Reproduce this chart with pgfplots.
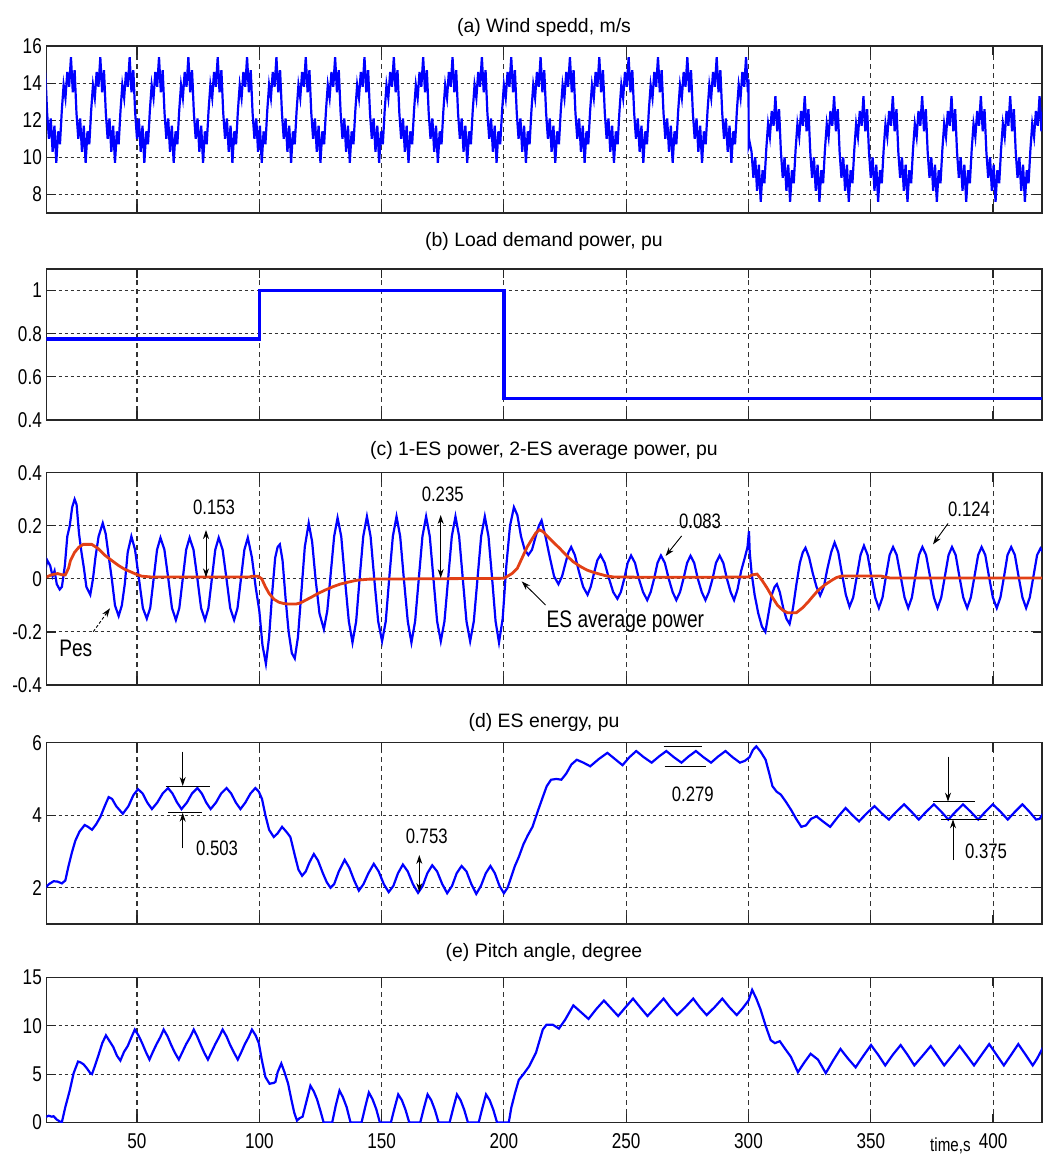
\documentclass[border=0pt]{standalone}
\usepackage{fontspec}
\setmainfont{Liberation Sans}
\newfontfamily\cond[FakeStretch=0.8]{Liberation Sans}
\usepackage{pgfplots}
\pgfplotsset{compat=1.18}
\usetikzlibrary{arrows.meta}
\definecolor{esred}{RGB}{226,64,22}
\newcommand\tickfont{\cond\fontsize{21.5}{24}\selectfont}
\newcommand\titlefont{\fontsize{19.5}{23}\selectfont}
\newcommand\annfont{\cond\fontsize{21}{24}\selectfont}
\newcommand\bigann{\cond\fontsize{24}{27}\selectfont}
\pgfplotsset{panel/.style={
  scale only axis, width=995.5bp, anchor=south west,
  xmin=13, xmax=420, xtick={50,100,...,400}, xticklabels={},
  tick align=inside, tick pos=both, major tick length=9bp,
  grid=major,
  x grid style={black!80, line width=1.1bp, dash pattern=on 5bp off 4bp},
  y grid style={black!80, line width=1.1bp, dash pattern=on 3bp off 3bp},
  axis line style={black!85, line width=1.4bp},
  tick style={black!85, line width=1.2bp},
  yticklabel style={font=\tickfont, inner sep=0pt, xshift=-4.5bp},
  xticklabel style={font=\tickfont, inner sep=0pt, yshift=-10.5bp},
  /pgf/number format/assume math mode=true,
}}
\tikzset{ah/.style={-{Stealth[length=9bp,width=6bp]}, line width=0.9bp, black},
         dah/.style={{Stealth[length=9bp,width=6bp]}-{Stealth[length=9bp,width=6bp]}, line width=0.9bp, black}}
\begin{document}
\begin{tikzpicture}
\path[use as bounding box] (0,0) rectangle (1048bp,-1160bp);
% ---------------- (a) wind speed
\begin{axis}[panel, at={(46.5bp,-213bp)}, height=167bp, ymin=7, ymax=16, ytick={8,10,12,14,16}]
\addplot[blue, line width=2.2bp] coordinates {
(12.5,14.7)(13.25,12.4)(14,11.0)(14.75,12.1)(15.5,10.3)(16.25,11.7)
(17,9.7)(17.75,11.4)(18.5,10.7)(19.25,12.5)(20,13.9)(20.75,13.2)(21.5,14.6)(22.25,13.8)(23,15.4)(23.75,13.5)(24.5,14.7)(25.25,12.4)(26,11.0)(26.75,12.1)(27.5,10.3)(28.25,11.7)
(29,9.7)(29.75,11.4)(30.5,10.7)(31.25,12.5)(32,13.9)(32.75,13.2)(33.5,14.6)(34.25,13.8)(35,15.4)(35.75,13.5)(36.5,14.7)(37.25,12.4)(38,11.0)(38.75,12.1)(39.5,10.3)(40.25,11.7)
(41,9.7)(41.75,11.4)(42.5,10.7)(43.25,12.5)(44,13.9)(44.75,13.2)(45.5,14.6)(46.25,13.8)(47,15.4)(47.75,13.5)(48.5,14.7)(49.25,12.4)(50,11.0)(50.75,12.1)(51.5,10.3)(52.25,11.7)
(53,9.7)(53.75,11.4)(54.5,10.7)(55.25,12.5)(56,13.9)(56.75,13.2)(57.5,14.6)(58.25,13.8)(59,15.4)(59.75,13.5)(60.5,14.7)(61.25,12.4)(62,11.0)(62.75,12.1)(63.5,10.3)(64.25,11.7)
(65,9.7)(65.75,11.4)(66.5,10.7)(67.25,12.5)(68,13.9)(68.75,13.2)(69.5,14.6)(70.25,13.8)(71,15.4)(71.75,13.5)(72.5,14.7)(73.25,12.4)(74,11.0)(74.75,12.1)(75.5,10.3)(76.25,11.7)
(77,9.7)(77.75,11.4)(78.5,10.7)(79.25,12.5)(80,13.9)(80.75,13.2)(81.5,14.6)(82.25,13.8)(83,15.4)(83.75,13.5)(84.5,14.7)(85.25,12.4)(86,11.0)(86.75,12.1)(87.5,10.3)(88.25,11.7)
(89,9.7)(89.75,11.4)(90.5,10.7)(91.25,12.5)(92,13.9)(92.75,13.2)(93.5,14.6)(94.25,13.8)(95,15.4)(95.75,13.5)(96.5,14.7)(97.25,12.4)(98,11.0)(98.75,12.1)(99.5,10.3)(100.25,11.7)
(101,9.7)(101.75,11.4)(102.5,10.7)(103.25,12.5)(104,13.9)(104.75,13.2)(105.5,14.6)(106.25,13.8)(107,15.4)(107.75,13.5)(108.5,14.7)(109.25,12.4)(110,11.0)(110.75,12.1)(111.5,10.3)(112.25,11.7)
(113,9.7)(113.75,11.4)(114.5,10.7)(115.25,12.5)(116,13.9)(116.75,13.2)(117.5,14.6)(118.25,13.8)(119,15.4)(119.75,13.5)(120.5,14.7)(121.25,12.4)(122,11.0)(122.75,12.1)(123.5,10.3)(124.25,11.7)
(125,9.7)(125.75,11.4)(126.5,10.7)(127.25,12.5)(128,13.9)(128.75,13.2)(129.5,14.6)(130.25,13.8)(131,15.4)(131.75,13.5)(132.5,14.7)(133.25,12.4)(134,11.0)(134.75,12.1)(135.5,10.3)(136.25,11.7)
(137,9.7)(137.75,11.4)(138.5,10.7)(139.25,12.5)(140,13.9)(140.75,13.2)(141.5,14.6)(142.25,13.8)(143,15.4)(143.75,13.5)(144.5,14.7)(145.25,12.4)(146,11.0)(146.75,12.1)(147.5,10.3)(148.25,11.7)
(149,9.7)(149.75,11.4)(150.5,10.7)(151.25,12.5)(152,13.9)(152.75,13.2)(153.5,14.6)(154.25,13.8)(155,15.4)(155.75,13.5)(156.5,14.7)(157.25,12.4)(158,11.0)(158.75,12.1)(159.5,10.3)(160.25,11.7)
(161,9.7)(161.75,11.4)(162.5,10.7)(163.25,12.5)(164,13.9)(164.75,13.2)(165.5,14.6)(166.25,13.8)(167,15.4)(167.75,13.5)(168.5,14.7)(169.25,12.4)(170,11.0)(170.75,12.1)(171.5,10.3)(172.25,11.7)
(173,9.7)(173.75,11.4)(174.5,10.7)(175.25,12.5)(176,13.9)(176.75,13.2)(177.5,14.6)(178.25,13.8)(179,15.4)(179.75,13.5)(180.5,14.7)(181.25,12.4)(182,11.0)(182.75,12.1)(183.5,10.3)(184.25,11.7)
(185,9.7)(185.75,11.4)(186.5,10.7)(187.25,12.5)(188,13.9)(188.75,13.2)(189.5,14.6)(190.25,13.8)(191,15.4)(191.75,13.5)(192.5,14.7)(193.25,12.4)(194,11.0)(194.75,12.1)(195.5,10.3)(196.25,11.7)
(197,9.7)(197.75,11.4)(198.5,10.7)(199.25,12.5)(200,13.9)(200.75,13.2)(201.5,14.6)(202.25,13.8)(203,15.4)(203.75,13.5)(204.5,14.7)(205.25,12.4)(206,11.0)(206.75,12.1)(207.5,10.3)(208.25,11.7)
(209,9.7)(209.75,11.4)(210.5,10.7)(211.25,12.5)(212,13.9)(212.75,13.2)(213.5,14.6)(214.25,13.8)(215,15.4)(215.75,13.5)(216.5,14.7)(217.25,12.4)(218,11.0)(218.75,12.1)(219.5,10.3)(220.25,11.7)
(221,9.7)(221.75,11.4)(222.5,10.7)(223.25,12.5)(224,13.9)(224.75,13.2)(225.5,14.6)(226.25,13.8)(227,15.4)(227.75,13.5)(228.5,14.7)(229.25,12.4)(230,11.0)(230.75,12.1)(231.5,10.3)(232.25,11.7)
(233,9.7)(233.75,11.4)(234.5,10.7)(235.25,12.5)(236,13.9)(236.75,13.2)(237.5,14.6)(238.25,13.8)(239,15.4)(239.75,13.5)(240.5,14.7)(241.25,12.4)(242,11.0)(242.75,12.1)(243.5,10.3)(244.25,11.7)
(245,9.7)(245.75,11.4)(246.5,10.7)(247.25,12.5)(248,13.9)(248.75,13.2)(249.5,14.6)(250.25,13.8)(251,15.4)(251.75,13.5)(252.5,14.7)(253.25,12.4)(254,11.0)(254.75,12.1)(255.5,10.3)(256.25,11.7)
(257,9.7)(257.75,11.4)(258.5,10.7)(259.25,12.5)(260,13.9)(260.75,13.2)(261.5,14.6)(262.25,13.8)(263,15.4)(263.75,13.5)(264.5,14.7)(265.25,12.4)(266,11.0)(266.75,12.1)(267.5,10.3)(268.25,11.7)
(269,9.7)(269.75,11.4)(270.5,10.7)(271.25,12.5)(272,13.9)(272.75,13.2)(273.5,14.6)(274.25,13.8)(275,15.4)(275.75,13.5)(276.5,14.7)(277.25,12.4)(278,11.0)(278.75,12.1)(279.5,10.3)(280.25,11.7)
(281,9.7)(281.75,11.4)(282.5,10.7)(283.25,12.5)(284,13.9)(284.75,13.2)(285.5,14.6)(286.25,13.8)(287,15.4)(287.75,13.5)(288.5,14.7)(289.25,12.4)(290,11.0)(290.75,12.1)(291.5,10.3)(292.25,11.7)
(293,9.7)(293.75,11.4)(294.5,10.7)(295.25,12.5)(296,13.9)(296.75,13.2)(297.5,14.6)(298.25,13.8)(299,15.4)(299.75,13.5)(300,14.2)(300.1,10.6)(300.5,10.8)(301.25,10.3)(302,8.9)(302.75,10.0)(303.5,8.2)(304.25,9.6)
(305,7.6)(305.75,9.3)(306.5,8.6)(307.25,10.4)(308,11.8)(308.75,11.1)(309.5,12.5)(310.25,11.7)(311,13.3)(311.75,11.4)(312.5,12.6)(313.25,10.3)(314,8.9)(314.75,10.0)(315.5,8.2)(316.25,9.6)
(317,7.6)(317.75,9.3)(318.5,8.6)(319.25,10.4)(320,11.8)(320.75,11.1)(321.5,12.5)(322.25,11.7)(323,13.3)(323.75,11.4)(324.5,12.6)(325.25,10.3)(326,8.9)(326.75,10.0)(327.5,8.2)(328.25,9.6)
(329,7.6)(329.75,9.3)(330.5,8.6)(331.25,10.4)(332,11.8)(332.75,11.1)(333.5,12.5)(334.25,11.7)(335,13.3)(335.75,11.4)(336.5,12.6)(337.25,10.3)(338,8.9)(338.75,10.0)(339.5,8.2)(340.25,9.6)
(341,7.6)(341.75,9.3)(342.5,8.6)(343.25,10.4)(344,11.8)(344.75,11.1)(345.5,12.5)(346.25,11.7)(347,13.3)(347.75,11.4)(348.5,12.6)(349.25,10.3)(350,8.9)(350.75,10.0)(351.5,8.2)(352.25,9.6)
(353,7.6)(353.75,9.3)(354.5,8.6)(355.25,10.4)(356,11.8)(356.75,11.1)(357.5,12.5)(358.25,11.7)(359,13.3)(359.75,11.4)(360.5,12.6)(361.25,10.3)(362,8.9)(362.75,10.0)(363.5,8.2)(364.25,9.6)
(365,7.6)(365.75,9.3)(366.5,8.6)(367.25,10.4)(368,11.8)(368.75,11.1)(369.5,12.5)(370.25,11.7)(371,13.3)(371.75,11.4)(372.5,12.6)(373.25,10.3)(374,8.9)(374.75,10.0)(375.5,8.2)(376.25,9.6)
(377,7.6)(377.75,9.3)(378.5,8.6)(379.25,10.4)(380,11.8)(380.75,11.1)(381.5,12.5)(382.25,11.7)(383,13.3)(383.75,11.4)(384.5,12.6)(385.25,10.3)(386,8.9)(386.75,10.0)(387.5,8.2)(388.25,9.6)
(389,7.6)(389.75,9.3)(390.5,8.6)(391.25,10.4)(392,11.8)(392.75,11.1)(393.5,12.5)(394.25,11.7)(395,13.3)(395.75,11.4)(396.5,12.6)(397.25,10.3)(398,8.9)(398.75,10.0)(399.5,8.2)(400.25,9.6)
(401,7.6)(401.75,9.3)(402.5,8.6)(403.25,10.4)(404,11.8)(404.75,11.1)(405.5,12.5)(406.25,11.7)(407,13.3)(407.75,11.4)(408.5,12.6)(409.25,10.3)(410,8.9)(410.75,10.0)(411.5,8.2)(412.25,9.6)
(413,7.6)(413.75,9.3)(414.5,8.6)(415.25,10.4)(416,11.8)(416.75,11.1)(417.5,12.5)(418.25,11.7)(419,13.3)(419.75,11.4)(420.5,12.6)
};
\end{axis}
% ---------------- (b) load demand
\begin{axis}[panel, at={(46.5bp,-420bp)}, height=151bp, ymin=0.4, ymax=1.1, ytick={0.4,0.6,0.8,1}]
\addplot[blue, line width=3.6bp] coordinates {(12.5,0.775)(100,0.775)(100,1.0)(200,1.0)(200,0.5)(420.5,0.5)};
\end{axis}
% ---------------- (c) ES power
\begin{axis}[panel, at={(46.5bp,-685bp)}, height=212.3bp, ymin=-0.4, ymax=0.4, ytick={-0.4,-0.2,0,0.2,0.4}]
\addplot[blue, line width=2.2bp] coordinates {
(12.5,0.03)(13.3,0.07)(14.5,0.05)(15.5,0.01)(16.3,0.03)(17.2,-0.02)(18.4,-0.04)(19.3,-0.03)(20.5,0.05)(21.5,0.16)(22.5,0.2)(23.5,0.27)(24.5,0.30)(25.3,0.28)(26.3,0.17)(27.3,0.1)(28.3,0.04)(29.3,-0.03)(30.9,-0.06)(32,0.0)(33,0.08)(34.3,0.16)(36,0.21)(37.2,0.17)(38.5,0.08)(39.7,0.0)(41,-0.1)(42.5,-0.14)(43.8,-0.1)(45,-0.02)(46.2,0.1)
(47.7,0.16)(49.2,0.11)(50.8,0.0)(52.4,-0.11)(54,-0.15)(55.4,-0.11)(56.8,0.0)(58.2,0.11)(59.6,0.155)
(61.2,0.11)(62.8,0.0)(64.3,-0.11)(65.9,-0.155)(67.3,-0.11)(68.7,0.0)(70.1,0.11)(71.5,0.155)
(73.1,0.11)(74.7,0.0)(76.2,-0.11)(77.8,-0.155)(79.2,-0.11)(80.6,0.0)(82,0.11)(83.4,0.155)
(85,0.11)(86.6,0.0)(88.1,-0.11)(89.7,-0.155)(91.1,-0.11)(92.5,0.0)(93.9,0.11)(95.3,0.155)
(97,0.08)(98.5,-0.03)(100,-0.12)(101.3,-0.25)(102.7,-0.32)(104,-0.22)(105.3,-0.05)(106.5,0.08)(107.5,0.12)(108.4,0.13)(109.5,0.07)(110.8,-0.08)(112,-0.2)(113.3,-0.28)(114.5,-0.30)(115.8,-0.22)(117.2,-0.05)(118.6,0.12)(120.2,0.21)(121.6,0.14)(123,0.0)(124.6,-0.13)(126.4,-0.19)(127.8,-0.12)(129.2,0.02)(130.6,0.16)(132,0.23)(133.5,0.16)(135,0.0)(136.6,-0.16)(138.1,-0.24)(139.6,-0.16)(141,0.0)(142.5,0.16)(144,0.235)
(145.5,0.16)(147,0.0)(148.6,-0.16)(150.2,-0.235)(151.7,-0.16)(153.1,0.0)(154.6,0.16)(156.1,0.235)
(157.6,0.16)(159.1,0.0)(160.7,-0.16)(162.2,-0.24)(163.7,-0.16)(165.2,0.0)(166.7,0.16)(168.2,0.235)
(169.7,0.16)(171.2,0.0)(172.7,-0.16)(174.2,-0.235)(175.7,-0.16)(177.2,0.0)(178.7,0.16)(180.2,0.235)
(181.7,0.16)(183.2,0.0)(184.7,-0.16)(186.2,-0.235)(187.7,-0.16)(189.2,0.0)(190.7,0.16)(192.2,0.235)
(193.7,0.16)(195.2,0.0)(196.6,-0.16)(198,-0.24)(199.5,-0.15)(201,0.05)(202.5,0.2)(204.1,0.27)(205.5,0.24)(207,0.16)(208.5,0.11)(210,0.09)(211.5,0.11)(213,0.16)(214.3,0.2)(215.4,0.22)(217,0.16)(218.8,0.08)(220.5,0.01)(222.3,-0.02)(223.8,0.01)(225.2,0.06)(226.4,0.1)(227.5,0.12)(229,0.09)(230.6,0.03)(232.4,-0.03)(234.2,-0.06)(235.5,-0.03)(236.8,0.02)(238.2,0.07)(239.5,0.09)
(241.2,0.06)(243,0.0)(244.7,-0.05)(246.4,-0.075)(247.8,-0.05)(249.2,0.0)(250.6,0.06)(252,0.088)
(253.6,0.06)(255.2,0.0)(256.9,-0.05)(258.6,-0.08)(260,-0.05)(261.4,0.0)(262.8,0.06)(264.2,0.088)
(265.8,0.06)(267.4,0.0)(269,-0.05)(270.5,-0.08)(272,-0.05)(273.4,0.0)(274.9,0.06)(276.3,0.087)
(277.8,0.06)(279.3,0.0)(280.9,-0.05)(282.4,-0.08)(283.8,-0.05)(285.3,0.0)(286.7,0.06)(288.2,0.088)
(289.7,0.06)(291.2,0.0)(292.7,-0.05)(294.1,-0.08)(295.5,-0.04)(297,0.03)(298.5,0.08)(299.6,0.12)(300.2,0.18)(300.5,0.1)(301.3,0.02)(302.5,-0.06)(304,-0.13)(305.5,-0.18)(306.9,-0.2)(308.2,-0.13)(309.5,-0.06)(310.7,-0.03)(311.6,-0.02)(312.8,-0.05)(314.2,-0.11)(315.5,-0.15)(316.8,-0.17)(318.2,-0.11)(319.6,-0.02)(321,0.06)(322.2,0.1)(323.3,0.117)(324.8,0.08)(326.3,0.02)(327.8,-0.03)(329.3,-0.063)(330.8,-0.03)(332.3,0.04)(333.8,0.1)(335.2,0.137)(336.7,0.1)(338.2,0.02)(339.8,-0.06)(341.3,-0.105)(342.8,-0.07)(344.3,0.01)(345.8,0.09)(347.2,0.125)
(348.7,0.09)(350.2,0.01)(351.8,-0.07)(353.3,-0.11)(354.8,-0.07)(356.2,0.01)(357.7,0.09)(359.1,0.12)
(360.6,0.09)(362.2,0.01)(363.8,-0.07)(365.3,-0.11)(366.8,-0.07)(368.2,0.01)(369.7,0.09)(371.1,0.12)
(372.6,0.09)(374.2,0.01)(375.8,-0.07)(377.3,-0.11)(378.8,-0.07)(380.3,0.01)(381.8,0.09)(383.2,0.12)
(384.7,0.09)(386.2,0.01)(387.8,-0.07)(389.4,-0.11)(390.9,-0.07)(392.4,0.01)(393.9,0.09)(395.3,0.12)
(396.8,0.09)(398.3,0.01)(399.9,-0.07)(401.5,-0.11)(403,-0.07)(404.5,0.01)(405.9,0.09)(407.4,0.12)
(408.9,0.09)(410.4,0.01)(412,-0.07)(413.5,-0.11)(415,-0.07)(416.5,0.01)(418,0.09)(419.4,0.115)(420.5,0.1)
};
\addplot[esred, line width=2.8bp] coordinates {
(12.5,0.005)(15,0.015)(17.5,0.02)(19.5,0.015)(20.7,0.015)(22,0.04)(22.8,0.069)(24.5,0.1)(26.2,0.119)(28,0.13)(31.5,0.13)(34,0.115)(37,0.088)(40,0.067)(42.5,0.05)(45,0.036)(47.8,0.025)(50,0.016)(52,0.01)(56,0.007)(96,0.007)(97,0.01)(99.5,0.01)
(101,0.0)(102.5,-0.03)(104,-0.055)(106,-0.077)(108,-0.088)(110,-0.093)(112,-0.095)(115,-0.095)(117,-0.09)(119,-0.08)(121.5,-0.068)(124,-0.055)(127,-0.042)(130,-0.03)(133,-0.02)(136.5,-0.012)(140,-0.005)(145,-0.001)
(200,0.002)(201.5,0.01)(203.3,0.02)(205.5,0.04)(207.5,0.08)(209.5,0.12)(211.7,0.153)(213,0.172)(214.5,0.185)(216,0.178)(217.3,0.165)(220,0.14)(222.8,0.115)(225.6,0.088)(228.4,0.064)(231.2,0.047)(234,0.033)(236.8,0.024)(239.5,0.017)(242,0.011)(245,0.007)(260,0.006)(280,0.006)(300,0.007)
(301.5,0.015)(303.5,0.018)(305.5,-0.005)(307.7,-0.036)(309.8,-0.07)(311.9,-0.1)(314,-0.118)(316,-0.128)(319.5,-0.128)(322,-0.11)(324.3,-0.088)(326.4,-0.065)(328.5,-0.043)(331.3,-0.022)(334.1,-0.005)(336,0.005)(338.2,0.011)(354,0.011)(358,0.003)(420.5,0.003)
};
\end{axis}
% ---------------- (d) ES energy
\begin{axis}[panel, at={(46.5bp,-924bp)}, height=181.3bp, ymin=1, ymax=6, ytick={2,4,6}]
\addplot[blue, line width=2.2bp] coordinates {
(12.5,2.0)(14,2.1)(15.9,2.18)(17.5,2.17)(19.3,2.12)(20.7,2.2)(22,2.6)(23.5,3.0)(24.8,3.3)(26.5,3.55)(28.6,3.73)(30,3.68)(31.6,3.6)(33.3,3.75)(35,3.95)(36.8,4.25)(38.4,4.5)(39.8,4.45)(41.5,4.25)(44.2,4.04)(46.5,4.25)(48.5,4.55)(50.4,4.72)(52.3,4.6)(54.2,4.35)(56.1,4.17)(58.3,4.35)(60.5,4.6)(62.7,4.75)(64.5,4.6)(66.4,4.35)(68.2,4.17)(70.4,4.35)(72.5,4.6)(74.7,4.75)(76.5,4.6)(78.3,4.35)(80.1,4.17)(82.3,4.35)(84.4,4.6)(86.6,4.75)(88.5,4.6)(90.4,4.35)(92.3,4.17)(94.3,4.35)(96.4,4.6)(98.4,4.75)(99.8,4.65)
(101.1,4.45)(102.5,4.0)(104,3.6)(105.9,3.4)(107.5,3.5)(109.3,3.68)(111,3.55)(112.7,3.4)(114.5,2.9)(116,2.5)(117.5,2.33)(119,2.45)(120.5,2.7)(122.3,2.93)(124,2.75)(126,2.4)(127.6,2.15)(129.1,2.0)(130.6,2.1)(132.5,2.45)(134.9,2.77)(136.8,2.55)(138.8,2.2)(140.7,1.92)(142.6,2.1)(144.6,2.4)(146.8,2.66)(148.8,2.45)(150.9,2.1)(152.9,1.88)(154.8,2.05)(156.7,2.4)(158.7,2.64)(160.7,2.45)(162.8,2.1)(164.9,1.86)(166.8,2.05)(168.7,2.4)(170.7,2.62)(172.7,2.45)(174.8,2.1)(176.8,1.85)(178.8,2.05)(180.7,2.4)(182.7,2.6)(184.7,2.45)(186.7,2.1)(188.7,1.83)(190.6,2.05)(192.6,2.4)(194.5,2.6)(196.3,2.4)(198.2,2.05)(200,1.85)
(201.5,2.0)(203,2.3)(204.5,2.6)(206.1,2.85)(208,3.2)(209.8,3.45)(211.7,3.68)(213.8,4.1)(215.9,4.5)(217.5,4.8)(219.3,4.98)(221.5,5.0)(223.5,4.98)(225.5,5.15)(227.6,5.4)(229.8,5.53)(232.5,5.45)(235.3,5.35)(238.8,5.55)(242.3,5.72)(245.4,5.55)(248.5,5.38)(251.3,5.6)(254.1,5.77)(257.2,5.6)(260.4,5.45)(263.4,5.62)(266.4,5.77)(269.5,5.6)(272.6,5.45)(275.5,5.62)(278.5,5.77)(281.6,5.6)(284.7,5.45)(287.6,5.62)(290.6,5.77)(293.5,5.6)(296.5,5.45)(298.5,5.5)(300.4,5.6)
(301.8,5.8)(303.2,5.9)(305,5.75)(307,5.53)(308.5,5.15)(309.8,4.8)(311.5,4.65)(313.2,4.57)(315.3,4.37)(317.4,4.15)(319.5,3.9)(321.6,3.68)(323.5,3.72)(325.6,3.9)(327.8,3.97)(330.6,3.82)(333.4,3.68)(336.5,3.95)(339.7,4.2)(342.5,4.0)(345.2,3.83)(348.3,4.05)(351.5,4.25)(354.5,4.05)(357.4,3.88)(360.5,4.1)(363.6,4.3)(366.6,4.1)(369.6,3.88)(372.7,4.1)(375.8,4.3)(378.8,4.1)(381.7,3.88)(384.7,4.1)(387.7,4.3)(390.8,4.1)(393.9,3.88)(396.9,4.1)(399.9,4.3)(403,4.1)(406,3.88)(409,4.1)(412,4.3)(414.8,4.1)(417.6,3.88)(419,3.9)(420.5,4.05)
};
\end{axis}
% ---------------- (e) pitch angle
\begin{axis}[panel, at={(46.5bp,-1122.5bp)}, height=145.2bp, ymin=0, ymax=15, ytick={0,5,10,15},
  xticklabels={50,100,150,200,250,300,350,400}]
\addplot[blue, line width=2.2bp] coordinates {
(12.5,0.55)(13.9,0.7)(15.2,0.6)(15.9,0.65)(17.2,0.3)(18.5,0.1)(19.3,0.05)(20.7,1.6)(22.5,3.3)(24.1,5.1)(25.9,6.3)(27,6.2)(28.2,6.0)(29.5,5.6)(30.9,5.1)(31.6,5.0)(33,6.0)(34.3,7.0)(35.8,8.2)(37.3,9.0)(38.8,8.4)(40.3,7.8)(41.8,6.9)(43.2,6.4)(44.7,7.3)(46.2,7.9)(47.7,8.8)(49.1,9.6)(50.6,9.0)(52.1,8.2)(53.6,7.3)(55.1,6.5)(56.5,7.3)(58,8.1)(59.5,8.8)(60.9,9.6)(62.5,8.9)(64,8.0)(65.5,7.2)(67.1,6.5)(68.6,7.3)(70.1,8.1)(71.7,8.8)(73.2,9.6)(74.6,8.9)(76.1,8.0)(77.5,7.2)(79,6.5)(80.5,7.3)(82,8.1)(83.5,8.8)(85,9.6)(86.6,8.9)(88.1,8.0)(89.7,7.2)(91.2,6.5)(92.7,7.3)(94.1,8.1)(95.6,8.8)(97,9.6)(98.5,9.0)(99.8,8.2)
(101,6.5)(102.5,4.7)(104.2,4.0)(106,4.1)(106.6,4.2)(107.5,5.2)(109,6.1)(110.3,5.2)(111.8,4.0)(113,2.5)(114.3,1.0)(115.4,0.2)(116.5,0.45)(117.7,0.6)(119.3,2.2)(120.9,3.8)(122.3,3.2)(123.6,2.4)(125,1.2)(126.3,0.0)(129.8,0.0)(131.3,1.8)(132.8,3.3)(134.2,2.6)(135.7,1.6)(137.3,0.0)(141.8,0.0)(143.3,1.6)(144.8,3.1)(146.3,2.4)(147.8,1.4)(149.3,0.0)(153.8,0.0)(155.3,1.5)(156.8,2.9)(158.3,2.3)(159.8,1.3)(161.3,0.0)(165.8,0.0)(167.3,1.5)(168.8,2.9)(170.3,2.3)(171.8,1.3)(173.3,0.0)(177.8,0.0)(179.3,1.5)(180.8,2.9)(182.3,2.3)(183.8,1.3)(185.3,0.0)(189.7,0.0)(191.2,1.5)(192.7,2.9)(194.2,2.3)(195.7,1.3)(197.2,0.0)(202,0.0)
(203,1.5)(204.5,3.0)(206.1,4.4)(208,5.0)(210.3,5.8)(213.1,7.2)(215.9,9.6)(217.4,10.1)(220,10.1)(222.5,9.7)(225,10.6)(228.4,12.1)(231.5,11.4)(234.6,10.7)(237.7,11.7)(240.9,12.6)(243.8,11.8)(246.7,11.0)(249.7,11.9)(252.8,12.8)(255.7,11.9)(258.7,11.0)(262,11.9)(265.3,12.8)(268,11.9)(270.8,11.1)(274.1,11.9)(277.4,12.8)(280.1,11.9)(282.9,11.1)(286.1,11.9)(289.3,12.8)(292.2,11.9)(295.2,11.1)(297.6,11.8)(300,12.6)
(301.5,13.7)(303.2,12.8)(304.9,11.7)(307,10.0)(309.1,8.5)(310.8,8.2)(312.8,8.4)(315,7.6)(317.3,6.8)(320.2,5.2)(322.8,6.2)(325.4,7.1)(328.4,6.5)(331.6,5.1)(334.6,6.4)(337.6,7.6)(340.7,6.6)(343.8,5.7)(347,6.9)(350.1,8.0)(353,7.0)(355.9,5.9)(359,7.0)(362.2,8.0)(365,7.0)(367.8,5.9)(371.2,6.9)(374.5,7.9)(377.3,6.9)(380,5.9)(383.2,6.9)(386.3,7.9)(389.3,6.9)(392.2,5.9)(395.3,7.0)(398.4,8.1)(401.4,7.0)(404.4,5.9)(407.4,7.0)(410.3,8.1)(413.3,7.0)(416.2,5.9)(418,6.6)(420.5,7.8)
};
\end{axis}
% ---------------- titles and annotations (picture pixels)
\begin{scope}[x=1bp, y=-1bp]
\node[font=\titlefont, anchor=base] at (544,32) {(a) Wind spedd, m/s};
\node[font=\titlefont, anchor=base] at (544,246) {(b) Load demand power, pu};
\node[font=\titlefont, anchor=base] at (544,455) {(c) 1-ES power, 2-ES average power, pu};
\node[font=\titlefont, anchor=base] at (544,727) {(d) ES energy, pu};
\node[font=\titlefont, anchor=base] at (544,957) {(e) Pitch angle, degree};
\node[font=\cond\fontsize{19}{22}\selectfont, anchor=base west, inner sep=0pt] at (930,1151) {time,s};
% panel c
\node[font=\annfont] at (214,507.5) {0.153};
\draw[dah] (206,530) -- (206,577.3);
\node[font=\annfont] at (442.7,494) {0.235};
\draw[dah] (440.7,515) -- (440.7,578);
\node[font=\annfont] at (700,521.5) {0.083};
\draw[ah] (681.6,536) -- (665.6,556);
\node[font=\annfont] at (969,509) {0.124};
\draw[ah] (948,523.5) -- (933,544.4);
\node[font=\bigann] at (75.8,648) {Pes};
\draw[ah, dash pattern=on 3bp off 2bp] (93.3,631.7) -- (110,608.3);
\node[font=\bigann] at (625.4,622) {ES average power};
\draw[ah] (545.5,605) -- (521.7,581.4);
% panel d
\draw[line width=1bp] (165.7,786) -- (210,786);
\draw[line width=1bp] (168.3,812.7) -- (201.7,812.7);
\draw[ah] (182.7,751.7) -- (182.7,786);
\draw[ah] (182.7,848.3) -- (182.7,812.7);
\node[font=\annfont] at (217,848.3) {0.503};
\node[font=\annfont] at (426.7,836.5) {0.753};
\draw[dah] (419.3,855) -- (419.3,892);
\draw[line width=1bp] (663.5,746) -- (702,746);
\draw[line width=1bp] (664.6,766.7) -- (706.4,766.7);
\node[font=\annfont] at (692.8,794) {0.279};
\draw[line width=1bp] (933.3,801.7) -- (975,801.7);
\draw[line width=1bp] (941,819.3) -- (986.7,819.3);
\draw[ah] (948,756.7) -- (948,801.7);
\draw[ah] (953,860) -- (953,819.3);
\node[font=\annfont] at (986,851.7) {0.375};
\end{scope}
\end{tikzpicture}
\end{document}
